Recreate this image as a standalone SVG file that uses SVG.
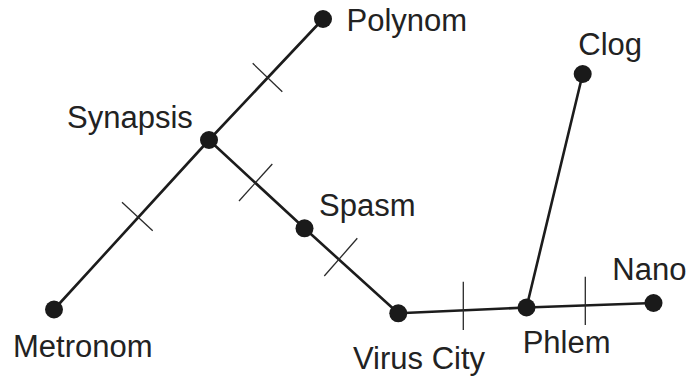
<svg xmlns="http://www.w3.org/2000/svg" width="694" height="377" viewBox="0 0 694 377">
<style>
.edge{stroke:#1c1c1c;stroke-width:2.6;fill:none;stroke-linecap:round}
.tick{stroke:#2a2a2a;stroke-width:1.3;fill:none}
.dot{fill:#1a1a1a}
.lbl{font-family:"Liberation Sans",Arial,sans-serif;font-size:31px;fill:#222}
</style>
<rect width="694" height="377" fill="#fff"/>
<g id="connectors">
<line class="edge" x1="323" y1="19" x2="209" y2="140"/>
<line class="edge" x1="209" y1="140" x2="54" y2="309.5"/>
<line class="edge" x1="209" y1="140" x2="304.5" y2="228.3"/>
<line class="edge" x1="304.5" y1="228.3" x2="398.3" y2="313.3"/>
<line class="edge" x1="398.3" y1="313.3" x2="526.5" y2="307.5"/>
<line class="edge" x1="526.5" y1="307.5" x2="582.7" y2="74"/>
<line class="edge" x1="526.5" y1="307.5" x2="653.5" y2="303"/>
<line class="tick" x1="252.7" y1="63.3" x2="282.3" y2="91.7"/>
<line class="tick" x1="122" y1="202.3" x2="152.7" y2="230.7"/>
<line class="tick" x1="239" y1="201" x2="272.3" y2="164"/>
<line class="tick" x1="324.3" y1="276" x2="357.3" y2="238.3"/>
<line class="tick" x1="463.3" y1="281.7" x2="463.3" y2="330"/>
<line class="tick" x1="585.3" y1="276.7" x2="585.3" y2="325"/>
</g>
<g id="polynom"><circle class="dot" cx="323" cy="19" r="9"/><text class="lbl" x="346.5" y="30.5">Polynom</text></g>
<g id="synapsis"><circle class="dot" cx="209" cy="140" r="9"/><text class="lbl" x="67" y="128">Synapsis</text></g>
<g id="metronom"><circle class="dot" cx="54" cy="309.5" r="9"/><text class="lbl" x="13" y="356.5">Metronom</text></g>
<g id="spasm"><circle class="dot" cx="304.5" cy="228.3" r="9"/><text class="lbl" x="319" y="216">Spasm</text></g>
<g id="viruscity"><circle class="dot" cx="398.3" cy="313.3" r="9"/><text class="lbl" x="353" y="369">Virus City</text></g>
<g id="phlem"><circle class="dot" cx="526.5" cy="307.5" r="9"/><text class="lbl" x="522.7" y="353">Phlem</text></g>
<g id="clog"><circle class="dot" cx="582.7" cy="74" r="9"/><text class="lbl" x="578.3" y="55">Clog</text></g>
<g id="nano"><circle class="dot" cx="653.5" cy="303" r="9"/><text class="lbl" x="612.3" y="280">Nano</text></g>
</svg>
